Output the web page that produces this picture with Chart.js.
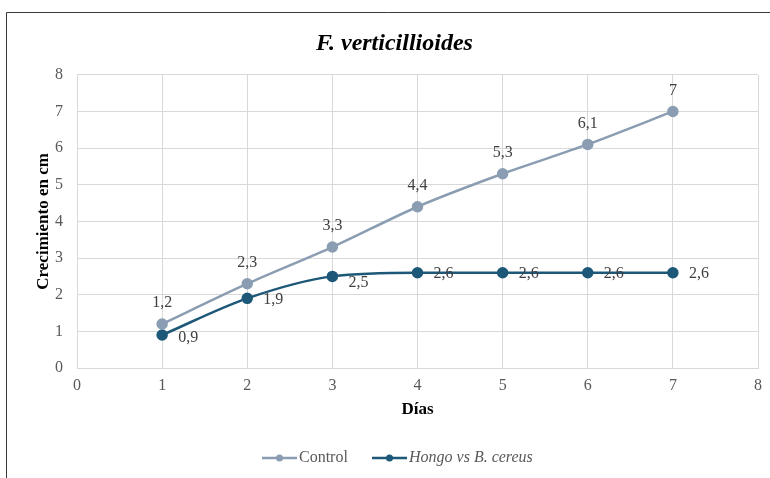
<!DOCTYPE html>
<html>
<head>
<meta charset="utf-8">
<script src="https://cdn.jsdelivr.net/npm/chart.js@4.4.1/dist/chart.umd.min.js"></script>
<style>
  html, body { margin: 0; padding: 0; background: #fff; }
  #wrap { position: relative; width: 770px; height: 478px; }
  canvas { display: block; }
</style>
</head>
<body>
<div id="wrap"><canvas id="c" width="770" height="478"></canvas></div>
<script>
// Días de medición
const dias = [1, 2, 3, 4, 5, 6, 7];
// Crecimiento (cm) de cada tratamiento
const control = [1.2, 2.3, 3.3, 4.4, 5.3, 6.1, 7];
const hongoVsBCereus = [0.9, 1.9, 2.5, 2.6, 2.6, 2.6, 2.6];
// Marcas de los ejes
const xTicks = [0, 1, 2, 3, 4, 5, 6, 7, 8];
const yTicks = [0, 1, 2, 3, 4, 5, 6, 7, 8];

const colControl = '#8A9DB2';
const colHongo = '#1D5878';
const serif = '"Liberation Serif", "Times New Roman", serif';

const toPts = (vals) => dias.map((d, i) => ({ x: d, y: vals[i] }));
const fmt = (v) => String(v).replace('.', ',');

// Etiquetas de valor junto a cada punto
const valueLabels = {
  id: 'valueLabels',
  afterDatasetsDraw(chart) {
    const ctx = chart.ctx;
    ctx.save();
    ctx.font = '16px ' + serif;
    ctx.fillStyle = '#404040';
    chart.data.datasets.forEach((ds, di) => {
      const meta = chart.getDatasetMeta(di);
      meta.data.forEach((pt, i) => {
        const v = ds.data[i].y;
        if (di === 0) {
          ctx.textAlign = 'center';
          ctx.textBaseline = 'middle';
          ctx.fillText(fmt(v), pt.x, pt.y - 21);
        } else {
          ctx.textAlign = 'left';
          ctx.textBaseline = 'middle';
          const dy = (i === 0) ? 3 : (i === 2 ? 6 : 1);
          ctx.fillText(fmt(v), pt.x + 16, pt.y + dy);
        }
      });
    });
    ctx.restore();
  }
};

// Leyenda inferior y marco exterior
const frameAndLegend = {
  id: 'frameAndLegend',
  afterDraw(chart) {
    const ctx = chart.ctx;
    ctx.save();
    ctx.strokeStyle = '#3a3a3a';
    ctx.lineWidth = 1;
    ctx.beginPath();
    ctx.moveTo(6.5, 478);
    ctx.lineTo(6.5, 12.5);
    ctx.lineTo(770, 12.5);
    ctx.stroke();

    const y = 458;
    const items = [
      { x0: 262, x1: 297, text: 'Control', italic: false, color: colControl },
      { x0: 372, x1: 407, text: 'Hongo vs B. cereus', italic: true, color: colHongo }
    ];
    items.forEach(it => {
      ctx.strokeStyle = it.color;
      ctx.lineWidth = 2.5;
      ctx.beginPath();
      ctx.moveTo(it.x0, y);
      ctx.lineTo(it.x1, y);
      ctx.stroke();
      ctx.fillStyle = it.color;
      ctx.beginPath();
      ctx.arc((it.x0 + it.x1) / 2, y, 3.5, 0, Math.PI * 2);
      ctx.fill();
      ctx.fillStyle = '#595959';
      ctx.font = (it.italic ? 'italic ' : '') + '16px ' + serif;
      ctx.textAlign = 'left';
      ctx.textBaseline = 'middle';
      ctx.fillText(it.text, it.x1 + 2, y);
    });
    ctx.restore();
  }
};

new Chart(document.getElementById('c'), {
  type: 'scatter',
  data: {
    datasets: [
      {
        label: 'Control',
        data: toPts(control),
        showLine: true,
        borderColor: colControl,
        backgroundColor: colControl,
        borderWidth: 2.5,
        pointRadius: 4.5,
        pointHoverRadius: 4.5,
        tension: 0.25
      },
      {
        label: 'Hongo vs B. cereus',
        data: toPts(hongoVsBCereus),
        showLine: true,
        borderColor: colHongo,
        backgroundColor: colHongo,
        borderWidth: 2.5,
        pointRadius: 4.5,
        pointHoverRadius: 4.5,
        cubicInterpolationMode: 'monotone'
      }
    ]
  },
  options: {
    responsive: false,
    animation: false,
    events: [],
    layout: { padding: { left: 28, right: 9, top: 14, bottom: 50 } },
    plugins: {
      legend: { display: false },
      tooltip: { enabled: false },
      title: {
        display: true,
        text: 'F. verticillioides',
        color: '#000',
        font: { family: serif, size: 24, style: 'italic', weight: 'bold' },
        padding: { top: 15, bottom: 17 }
      }
    },
    scales: {
      x: {
        type: 'linear',
        min: 0, max: 8,
        afterBuildTicks(s) { s.ticks = xTicks.map(v => ({ value: v })); },
        afterFit(s) { s.height = 60; },
        grid: { color: '#D9D9D9', lineWidth: 1, drawTicks: false },
        border: { color: '#D9D9D9' },
        ticks: { color: '#595959', font: { family: serif, size: 16 }, padding: 8 },
        title: {
          display: true, text: 'Días', color: '#000',
          font: { family: serif, size: 17, weight: 'bold' },
          padding: { top: 0, bottom: 8 }
        }
      },
      y: {
        type: 'linear',
        min: 0, max: 8,
        afterBuildTicks(s) { s.ticks = yTicks.map(v => ({ value: v })); },
        afterFit(s) { s.width = 49; },
        grid: { color: '#D9D9D9', lineWidth: 1, drawTicks: false },
        border: { color: '#D9D9D9' },
        ticks: { color: '#595959', font: { family: serif, size: 16 }, padding: 14 },
        title: {
          display: true, text: 'Crecimiento en cm', color: '#000',
          font: { family: serif, size: 17, weight: 'bold' },
          padding: { top: 5, bottom: 0 }
        }
      }
    }
  },
  plugins: [valueLabels, frameAndLegend]
});
</script>
</body>
</html>
